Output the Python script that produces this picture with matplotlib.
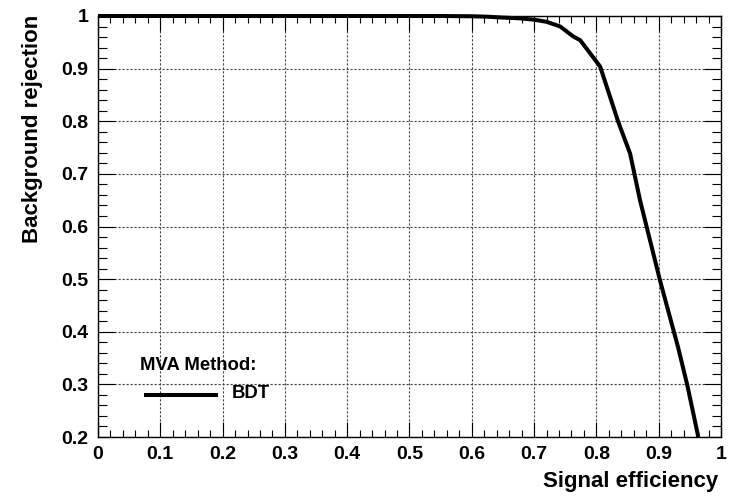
import matplotlib
matplotlib.use("Agg")
import matplotlib.pyplot as plt
from matplotlib.ticker import MultipleLocator, FixedLocator

plt.rcParams['font.family'] = ['Liberation Sans', 'DejaVu Sans']
plt.rcParams['font.weight'] = 'bold'

# ROC curve of the BDT classifier
signal_eff = [0.0, 0.1, 0.2, 0.3, 0.4, 0.5, 0.549, 0.6, 0.624, 0.65, 0.677,
              0.70, 0.72, 0.742, 0.763, 0.774, 0.806, 0.835, 0.854, 0.870,
              0.902, 0.931, 0.946, 0.9636]
bkg_rej = [1.0, 1.0, 1.0, 1.0, 1.0, 1.0, 1.0, 0.9995, 0.9987, 0.997, 0.9956,
           0.993, 0.989, 0.980, 0.961, 0.954, 0.904, 0.799, 0.739, 0.650,
           0.498, 0.371, 0.298, 0.2]

x_ticks = [0, 0.1, 0.2, 0.3, 0.4, 0.5, 0.6, 0.7, 0.8, 0.9, 1]
x_tick_labels = ["0", "0.1", "0.2", "0.3", "0.4", "0.5", "0.6", "0.7", "0.8", "0.9", "1"]
y_ticks = [0.2, 0.3, 0.4, 0.5, 0.6, 0.7, 0.8, 0.9, 1]
y_tick_labels = ["0.2", "0.3", "0.4", "0.5", "0.6", "0.7", "0.8", "0.9", "1"]

method_title = "MVA Method:"
method_name = "BDT"

W, H = 731, 497
fig = plt.figure(figsize=(W / 100, H / 100), dpi=100)
ax = fig.add_axes([98 / W, (H - 437) / H, 623 / W, 421 / H])

ax.set_xlim(0, 1)
ax.set_ylim(0.2, 1)

ax.plot(signal_eff, bkg_rej, color="black", lw=2.9, solid_capstyle="butt",
        solid_joinstyle="round", clip_on=False, zorder=5)

# ticks
ax.xaxis.set_major_locator(FixedLocator(x_ticks))
ax.set_xticklabels(x_tick_labels)
ax.yaxis.set_major_locator(FixedLocator(y_ticks))
ax.set_yticklabels(y_tick_labels)
ax.xaxis.set_minor_locator(MultipleLocator(0.02))
ax.yaxis.set_minor_locator(MultipleLocator(0.02))

ax.tick_params(axis="x", which="major", direction="in", length=10.5, width=0.8,
               top=True, bottom=True, labelsize=14, pad=6.5, colors="black")
ax.tick_params(axis="x", which="minor", direction="in", length=5, width=0.8,
               top=True, bottom=True)
ax.tick_params(axis="y", which="major", direction="in", length=12, width=0.8,
               left=True, right=True, labelsize=14, pad=7, colors="black")
ax.tick_params(axis="y", which="minor", direction="in", length=6.3, width=0.8,
               left=True, right=True)
for lab in ax.get_xticklabels() + ax.get_yticklabels():
    lab.set_fontweight("bold")

for sp in ax.spines.values():
    sp.set_linewidth(1.0)
    sp.set_color("black")

ax.grid(True, which="major", color="#444444", lw=0.8, linestyle=(0, (2.0, 1.6)))
ax.set_axisbelow(True)

# axis titles, right/top aligned
fig.text(718 / W, 1 - 482 / H, "Signal efficiency", ha="right", va="center",
         fontsize=16, fontweight="bold")
fig.text(33 / W, 1 - 15 / H, "Background rejection", ha="center", va="top",
         rotation=90, fontsize=16, fontweight="bold")

# legend
fig.text(140 / W, 1 - 365 / H, method_title, ha="left", va="center",
         fontsize=13.3, fontweight="bold")
leg_line_x = [(144 - 98) / 623, (218 - 98) / 623]
leg_line_y = [1 - (395 - 16) / 421 * 0.8, 1 - (395 - 16) / 421 * 0.8]
ax.plot(leg_line_x, leg_line_y, color="black", lw=2.9, solid_capstyle="butt",
        transform=ax.transData, zorder=5)
fig.text(232 / W, 1 - 394 / H, method_name, ha="left", va="center",
         fontsize=13.3, fontweight="bold")

fig.savefig("out.png", dpi=100, facecolor="white")
